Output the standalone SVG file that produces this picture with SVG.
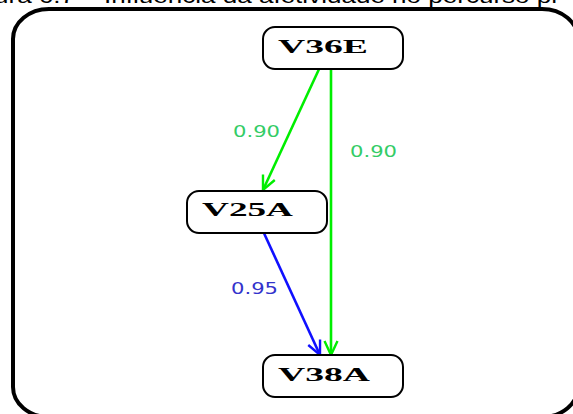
<svg xmlns="http://www.w3.org/2000/svg" width="573" height="414" viewBox="0 0 573 414">
<style>
.node rect{fill:#fff;stroke:#000;stroke-width:2}
.node text{font-family:"Liberation Serif",serif;font-weight:bold;font-size:19px;fill:#000}
.lbl{font-family:"DejaVu Sans",sans-serif;font-size:15px}
.g{stroke:#00ee00;stroke-width:2.6;fill:none}
.b{stroke:#1010ff;stroke-width:2.6;fill:none}
</style>
<defs>
<marker id="ag" viewBox="0 0 16 16" refX="15" refY="8" markerWidth="16" markerHeight="16" markerUnits="userSpaceOnUse" orient="auto"><path d="M1,1.5 L15,8 L1,14.5" fill="none" stroke="#00ee00" stroke-width="2.4"/></marker>
<marker id="ab" viewBox="0 0 16 16" refX="15" refY="8" markerWidth="16" markerHeight="16" markerUnits="userSpaceOnUse" orient="auto"><path d="M1,1.5 L15,8 L1,14.5" fill="none" stroke="#1010ff" stroke-width="2.4"/></marker>
</defs>
<rect width="573" height="414" fill="#fff"/>
<text x="-6" y="3" font-family="Liberation Sans,sans-serif" font-size="20" textLength="566" lengthAdjust="spacingAndGlyphs" fill="#000">ura 6.7 – Influência da afetividade no percurso pr</text>
<rect x="13" y="9" width="565" height="408" rx="36" ry="30" fill="none" stroke="#000" stroke-width="4"/>
<g id="connectors">
<path class="g" d="M320,67 L263,190" marker-end="url(#ag)"/>
<path class="g" d="M331,67 L331,355" marker-end="url(#ag)"/>
<path class="b" d="M263,231 L320,355" marker-end="url(#ab)"/>
<text class="lbl" x="233" y="137" fill="#33cc66" textLength="47" lengthAdjust="spacingAndGlyphs">0.90</text>
<text class="lbl" x="350" y="157" fill="#33cc66" textLength="47" lengthAdjust="spacingAndGlyphs">0.90</text>
<text class="lbl" x="231" y="294" fill="#3333cc" textLength="47" lengthAdjust="spacingAndGlyphs">0.95</text>
</g>
<g id="V36E" class="node"><rect x="263" y="27" width="140" height="42" rx="12"/><text x="278" y="53" textLength="90" lengthAdjust="spacingAndGlyphs">V36E</text></g>
<g id="V25A" class="node"><rect x="187" y="191" width="140" height="42" rx="12"/><text x="202" y="216" textLength="91" lengthAdjust="spacingAndGlyphs">V25A</text></g>
<g id="V38A" class="node"><rect x="263" y="355" width="140" height="42" rx="12"/><text x="278" y="381" textLength="92" lengthAdjust="spacingAndGlyphs">V38A</text></g>
</svg>
